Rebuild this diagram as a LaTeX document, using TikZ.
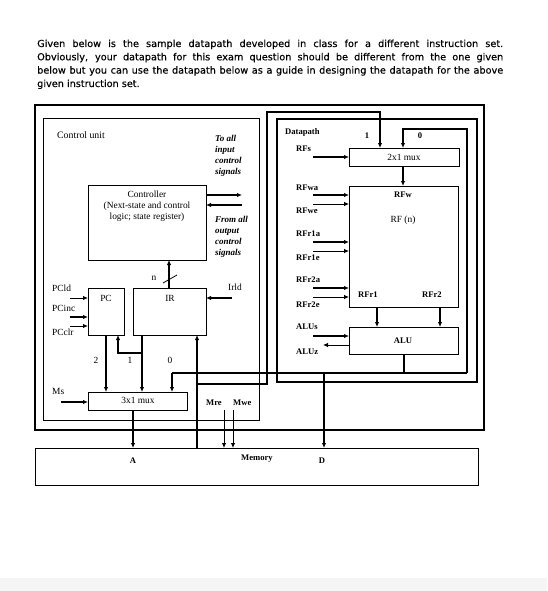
\documentclass[tikz,border=0pt]{standalone}
\usepackage{fontspec}
\setmainfont{Liberation Serif}
\newfontfamily\headfont[FakeBold=0.3]{DejaVu Sans}
\usetikzlibrary{arrows.meta}
\begin{document}
\begin{tikzpicture}[x=1pt,y=-1pt,
  box/.style={draw, line width=1pt, inner sep=0pt, outer sep=0pt, anchor=north west},
  lbl/.style={inner sep=0pt, anchor=base, font=\fontsize{9.4}{11}\selectfont},
  lbll/.style={lbl, anchor=base west},
  blbl/.style={lbl, font=\fontsize{8.6}{11}\selectfont\bfseries},
  blbll/.style={blbl, anchor=base west},
  itl/.style={lbl, anchor=base west, font=\fontsize{9}{11}\selectfont\bfseries\itshape},
  arr/.style={line width=1.4pt, -{Latex[length=5pt,width=4.5pt]}},
  thinarr/.style={line width=0.8pt, -{Latex[length=5pt,width=4.5pt]}},
  wire/.style={line width=1.4pt},
  hd/.style={inner sep=0pt, anchor=base west, font=\headfont\fontsize{9.7}{13}\selectfont}
]
\useasboundingbox (0,0) rectangle (547,591);
\fill[white] (0,0) rectangle (547,591);
\fill[black!4] (0,578) rectangle (547,591);

% header text
\node[hd] (h1) at (37,47) {\makebox[466pt][s]{Given below is the sample datapath developed in class for a different instruction set.}};
\node[hd] (h2) at (37,60.3) {\makebox[466pt][s]{Obviously, your datapath for this exam question should be different from the one given}};
\node[hd] (h3) at (37,73.6) {\makebox[466pt][s]{below but you can use the datapath below as a guide in designing the datapath for the above}};
\node[hd] (h4) at (37,87) {given instruction set.};

% boxes
\node[box, line width=1.2pt, minimum width=449pt, minimum height=325pt] (outer) at (35,105) {};
\node[box, minimum width=216pt, minimum height=301pt] (cu) at (43,119) {};
\node[box, line width=1.2pt, minimum width=200pt, minimum height=263pt] (dp) at (277,119) {};
\node[box, minimum width=118pt, minimum height=75pt] (ctrl) at (88,185) {};
\node[box, minimum width=36pt, minimum height=47pt] (pc) at (88,288) {};
\node[box, minimum width=73pt, minimum height=47pt] (ir) at (133,288) {};
\node[box, minimum width=99pt, minimum height=18pt] (mux3) at (88,392) {};
\node[box, minimum width=110pt, minimum height=18pt] (mux2) at (349,148) {};
\node[box, minimum width=109pt, minimum height=121pt] (rf) at (349,186) {};
\node[box, minimum width=109pt, minimum height=27pt] (alu) at (349,327) {};
\node[box, minimum width=443pt, minimum height=37pt] (mem) at (35,448) {};

% control unit labels
\node[lbll, font=\fontsize{9.8}{11}\selectfont] (cul) at (57,139) {Control unit};
\node[itl] (ta1) at (215,141) {To all};
\node[itl] (ta2) at (215,152) {input};
\node[itl] (ta3) at (215,163) {control};
\node[itl] (ta4) at (215,174) {signals};
\node[itl] (fa1) at (215,222) {From all};
\node[itl] (fa2) at (215,233) {output};
\node[itl] (fa3) at (215,244) {control};
\node[itl] (fa4) at (215,255) {signals};
\node[lbl] (ct1) at (147,197) {Controller};
\node[lbl] (ct2) at (147,208) {(Next-state and control};
\node[lbl] (ct3) at (147,219) {logic; state register)};
\node[lbl] (nl) at (154,280) {n};
\node[lbl] (pcl) at (106,301) {PC};
\node[lbl] (irl) at (170,301) {IR};
\node[lbll] (pcldl) at (52,291) {PCld};
\node[lbll] (pcincl) at (52,311) {PCinc};
\node[lbll] (pcclrl) at (52,335) {PCclr};
\node[lbll] (irldl) at (228,290) {Irld};
\node[lbl] (in2) at (96,363) {2};
\node[lbl] (in1) at (130,363) {1};
\node[lbl] (in0) at (170,363) {0};
\node[lbll] (msl) at (52,394) {Ms};
\node[lbl] (mux3l) at (138,403) {3x1 mux};
\node[blbll] (mrel) at (206,405) {Mre};
\node[blbll] (mwel) at (233,405) {Mwe};
\node[blbl] (meml) at (257,460) {Memory};
\node[blbl] (al) at (133,463) {A};
\node[blbl] (dl) at (322,463) {D};

% datapath labels
\node[blbll] (dpl) at (285,135) {Datapath};
\node[blbll] (rfsl) at (296,151) {RFs};
\node[blbl] (m1) at (367,138) {1};
\node[blbl] (m0) at (420,138) {0};
\node[lbl] (mux2l) at (404,160) {2x1 mux};
\node[blbl] (rfwl) at (403,197) {RFw};
\node[lbl] (rfnl) at (403,222) {RF (n)};
\node[blbll] (rfwal) at (296,190) {RFwa};
\node[blbll] (rfwel) at (296,213) {RFwe};
\node[blbll] (rfr1al) at (296,236) {RFr1a};
\node[blbll] (rfr1el) at (296,260) {RFr1e};
\node[blbll] (rfr2al) at (296,282) {RFr2a};
\node[blbll] (rfr2el) at (296,307) {RFr2e};
\node[blbll] (alusl) at (296,329) {ALUs};
\node[blbll] (aluzl) at (296,354) {ALUz};
\node[blbl] (rfr1l) at (368,297) {RFr1};
\node[blbl] (rfr2l) at (432,297) {RFr2};
\node[blbl] (alul) at (403,343) {ALU};

% coordinates
\coordinate (toall) at (242,195);
\coordinate (fromall) at (242,205);
\coordinate (irup) at (169,0);
\coordinate (pcld) at (70,298);
\coordinate (pcinc) at (70,317);
\coordinate (pcclr) at (70,326);
\coordinate (irld) at (232,298);
\coordinate (x2) at (106,0);
\coordinate (x1) at (142,0);
\coordinate (xpcin) at (118,0);
\coordinate (jb) at (142,353);
\coordinate (busL) at (172,373);
\coordinate (busR) at (467,373);
\coordinate (aluj) at (404,373);
\coordinate (top0) at (467,129);
\coordinate (x0) at (403,129);
\coordinate (dx) at (324,373);
\coordinate (mx) at (197,0);
\coordinate (mj) at (197,384);
\coordinate (l1) at (267,384);
\coordinate (l2) at (267,112);
\coordinate (l3) at (380,112);
\coordinate (ms) at (61,402);
\coordinate (ax) at (133,0);
\coordinate (mre) at (224,410);
\coordinate (mwe) at (233,410);
\coordinate (rfs) at (313,157);
\coordinate (murf) at (403,0);
\coordinate (rfwa) at (313,195);
\coordinate (rfwe) at (313,204);
\coordinate (rfr1a) at (313,242);
\coordinate (rfr1e) at (313,251);
\coordinate (rfr2a) at (313,288);
\coordinate (rfr2e) at (313,297);
\coordinate (o1) at (377,0);
\coordinate (o2) at (440,0);
\coordinate (alus) at (313,336);
\coordinate (aluz) at (323,345);

% control unit connectors
\draw[arr] (toall -| ctrl.east) -- (toall);
\draw[arr] (fromall) -- (fromall -| ctrl.east);
\draw[arr] (ir.north -| irup) -- (ctrl.south -| irup);
\draw[line width=0.8pt] (163,283) -- (177,275);
\draw[thinarr, line width=1pt] (pcld) -- (pcld -| pc.west);
\draw[arr, line width=1.8pt] (pcinc) -- (pcinc -| pc.west);
\draw[thinarr, line width=1pt] (pcclr) -- (pcclr -| pc.west);
\draw[arr] (irld) -- (irld -| ir.east);
\draw[arr] (pc.south -| x2) -- (mux3.north -| x2);
\draw[arr] (ir.south -| x1) -- (mux3.north -| x1);
\draw[arr] (jb) -- (jb -| xpcin) -- (pc.south -| xpcin);
\draw[arr] (ms) -- (ms -| mux3.west);
\draw[arr] (mux3.south -| ax) -- (mem.north -| ax);
\draw[thinarr] (mre) -- (mem.north -| mre);
\draw[thinarr] (mwe) -- (mem.north -| mwe);

% buses
\draw[wire] (alu.south -| aluj) -- (aluj);
\draw[wire] (busL) -- (busR);
\draw[arr] (busL) -- (mux3.north -| busL);
\draw[arr] (busR) -- (top0) -- (x0) -- (mux2.north -| x0);
\draw[arr] (dx) -- (mem.north -| dx);
\draw[arr] (mem.north -| mx) -- (ir.south -| mx);
\draw[arr] (mj) -- (l1) -- (l2) -- (l3) -- (mux2.north -| l3);

% datapath connectors
\draw[arr] (rfs) -- (rfs -| mux2.west);
\draw[arr] (mux2.south -| murf) -- (rf.north -| murf);
\draw[arr] (rfwa) -- (rfwa -| rf.west);
\draw[thinarr] (rfwe) -- (rfwe -| rf.west);
\draw[arr] (rfr1a) -- (rfr1a -| rf.west);
\draw[thinarr] (rfr1e) -- (rfr1e -| rf.west);
\draw[arr] (rfr2a) -- (rfr2a -| rf.west);
\draw[thinarr] (rfr2e) -- (rfr2e -| rf.west);
\draw[arr] (rf.south -| o1) -- (alu.north -| o1);
\draw[arr] (rf.south -| o2) -- (alu.north -| o2);
\draw[arr] (alus) -- (alus -| alu.west);
\draw[thinarr] (aluz -| alu.west) -- (aluz);
\end{tikzpicture}
\end{document}
